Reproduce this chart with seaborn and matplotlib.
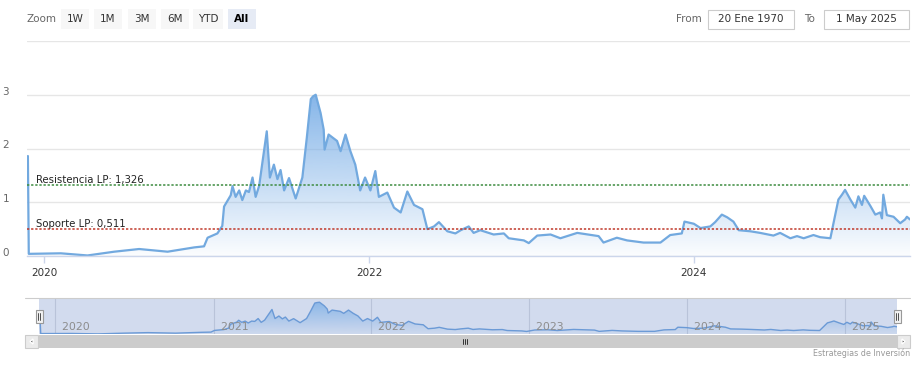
import numpy as np
import pandas as pd
import matplotlib
matplotlib.use("Agg")
import matplotlib.pyplot as plt
import matplotlib.dates as mdates
from matplotlib.patches import Rectangle, Polygon
from matplotlib.colors import LinearSegmentedColormap
from matplotlib.transforms import ScaledTranslation
import seaborn as sns

# ---------------- data ----------------
dates = [
    "2019-11-26", "2019-11-28", "2020-02-08", "2020-04-08", "2020-06-07", "2020-08-02",
    "2020-10-05", "2020-12-04", "2020-12-26", "2021-01-03", "2021-01-25", "2021-02-05",
    "2021-02-09", "2021-02-24", "2021-02-28", "2021-03-07", "2021-03-15", "2021-03-22",
    "2021-03-30", "2021-04-06", "2021-04-14", "2021-04-21", "2021-04-29", "2021-05-06",
    "2021-05-16", "2021-05-23", "2021-06-01", "2021-06-09", "2021-06-16", "2021-06-24",
    "2021-07-05", "2021-07-20", "2021-08-04", "2021-08-14", "2021-08-23", "2021-08-28",
    "2021-09-03", "2021-09-14", "2021-09-21", "2021-09-23", "2021-10-02", "2021-10-21",
    "2021-10-29", "2021-11-09", "2021-11-20", "2021-12-01", "2021-12-12", "2021-12-23",
    "2022-01-04", "2022-01-15", "2022-01-23", "2022-02-11", "2022-02-26",
    "2022-03-13", "2022-03-28", "2022-04-12", "2022-05-01", "2022-05-12", "2022-05-27",
    "2022-06-07", "2022-06-26", "2022-07-14", "2022-07-26", "2022-08-13", "2022-08-24",
    "2022-09-08", "2022-10-08", "2022-10-31", "2022-11-11", "2022-12-15", "2022-12-26",
    "2023-01-14", "2023-02-13", "2023-03-07", "2023-04-14", "2023-06-01", "2023-06-12",
    "2023-07-12", "2023-08-04", "2023-09-10", "2023-10-18", "2023-11-09", "2023-12-05",
    "2023-12-11", "2024-01-01", "2024-01-16", "2024-02-07", "2024-02-18", "2024-03-04",
    "2024-03-16", "2024-03-30", "2024-04-11", "2024-05-07", "2024-05-29", "2024-06-28",
    "2024-07-13", "2024-08-05", "2024-08-20", "2024-09-04", "2024-09-26", "2024-10-11",
    "2024-11-03", "2024-11-10", "2024-11-21", "2024-11-29", "2024-12-06", "2024-12-18",
    "2024-12-29", "2025-01-05", "2025-01-13", "2025-01-18", "2025-02-01", "2025-02-12",
    "2025-02-23", "2025-02-27", "2025-03-02", "2025-03-10", "2025-03-25", "2025-04-09",
    "2025-04-20", "2025-04-24", "2025-05-01",
]
values = [
    1.86, 0.04, 0.05, 0.01, 0.08, 0.13,
    0.08, 0.16, 0.18, 0.34, 0.42, 0.56,
    0.92, 1.13, 1.30, 1.10, 1.22, 1.04,
    1.22, 1.19, 1.46, 1.10, 1.31, 1.73,
    2.32, 1.46, 1.70, 1.43, 1.60, 1.22,
    1.45, 1.07, 1.46, 2.20, 2.92, 2.97,
    3.00, 2.66, 2.35, 1.98, 2.26, 2.14,
    1.95, 2.26, 1.95, 1.70, 1.22, 1.46,
    1.22, 1.58, 1.10, 1.18, 0.90,
    0.81, 1.20, 0.95, 0.87, 0.50, 0.55,
    0.63, 0.46, 0.42, 0.48, 0.55, 0.43,
    0.48, 0.40, 0.42, 0.33, 0.29, 0.24,
    0.38, 0.40, 0.33, 0.43, 0.37, 0.25,
    0.34, 0.29, 0.25, 0.25, 0.39, 0.42,
    0.64, 0.60, 0.52, 0.55, 0.63, 0.77,
    0.72, 0.64, 0.48, 0.46, 0.43, 0.38,
    0.43, 0.33, 0.37, 0.33, 0.39, 0.35,
    0.33, 0.61, 1.05, 1.14, 1.23, 1.05,
    0.90, 1.11, 0.95, 1.12, 0.93, 0.77,
    0.81, 0.70, 1.14, 0.76, 0.73, 0.61,
    0.68, 0.73, 0.68,
]
resistance = 1.326
support = 0.511
resistance_label = "Resistencia LP: 1,326"
support_label = "Soporte LP: 0,511"
main_year_ticks = ["2020-01-01", "2022-01-01", "2024-01-01"]
main_year_labels = ["2020", "2022", "2024"]
nav_year_ticks = ["2020-01-01", "2021-01-01", "2022-01-01", "2023-01-01", "2024-01-01", "2025-01-01"]
nav_year_labels = ["2020", "2021", "2022", "2023", "2024", "2025"]
y_ticks = [0, 1, 2, 3, 4]
y_labels = ["0", "1", "2", "3", ""]
zoom_buttons = ["1W", "1M", "3M", "6M", "YTD", "All"]
from_date = "20 Ene 1970"
to_date = "1 May 2025"
x_start, x_end = "2019-11-24", "2025-05-01"

df = pd.DataFrame({"date": pd.to_datetime(dates), "value": values})

# ---------------- style ----------------
sns.set_theme(style="white")
plt.rcParams["font.family"] = ["DejaVu Sans"]

W, H = 920, 367
fig = plt.figure(figsize=(W / 100, H / 100), dpi=100)
fig.patch.set_facecolor("white")

LINE = "#72a9df"
FILL = (118 / 255, 172 / 255, 230 / 255)

x0, x1 = mdates.date2num(pd.Timestamp(x_start)), mdates.date2num(pd.Timestamp(x_end))


def gradient_fill(ax, ytop, amax, amin):
    poly = ax.fill_between(df["date"], df["value"], 0, color="none", lw=0)
    path = poly.get_paths()[0]
    cmap = LinearSegmentedColormap.from_list(
        "g", [(FILL[0], FILL[1], FILL[2], amin), (FILL[0], FILL[1], FILL[2], amax)])
    grad = np.linspace(0, 1, 256)[:, None]
    im = ax.imshow(grad, extent=[x0, x1, 0, ytop], aspect="auto", cmap=cmap,
                   origin="lower", zorder=1, interpolation="bilinear")
    im.set_clip_path(path, transform=ax.transData)


# ---------------- main axes ----------------
ax = fig.add_axes([27 / W, 1 - 256 / H, (910 - 27) / W, (256 - 41) / H])
ax.set_facecolor("white")
gradient_fill(ax, 3.4, 1.0, 0.03)
sns.lineplot(data=df, x="date", y="value", ax=ax, color=LINE, lw=1.6, zorder=3)
ax.set_xlim(x0, x1)
ax.set_ylim(0, 4)
ax.set_yticks(y_ticks)
ax.set_yticklabels(y_labels)
ax.yaxis.grid(True, color="#e6e6e6", lw=1)
ax.xaxis.grid(False)
ax.set_axisbelow(True)
ax.set_xlabel("")
ax.set_ylabel("")
for s in ["top", "right", "left"]:
    ax.spines[s].set_visible(False)
ax.spines["bottom"].set_color("#ccd6eb")
ax.spines["bottom"].set_linewidth(1)
ax.spines["bottom"].set_zorder(5)
ax.set_xticks(mdates.date2num(pd.to_datetime(main_year_ticks)))
ax.set_xticklabels(main_year_labels)
ax.tick_params(axis="x", length=5, width=1, color="#ccd6eb", labelsize=7.5,
               labelcolor="#333333", pad=4, bottom=True)
ax.tick_params(axis="y", length=0, labelsize=7.5, labelcolor="#666666", pad=13)
for lab in ax.get_yticklabels():
    lab.set_transform(lab.get_transform() + ScaledTranslation(0, 3 / 72, fig.dpi_scale_trans))

ax.axhline(resistance, color="#3d8c40", ls=(0, (1.5, 1.2)), lw=1.1, zorder=4)
ax.axhline(support, color="#c0392b", ls=(0, (1.5, 1.2)), lw=1.1, zorder=4)
tx = (36 - 27) / (910 - 27)
ax.text(tx, resistance + 0.03, resistance_label, transform=ax.get_yaxis_transform(),
        fontsize=7.3, color="#222222", va="baseline", ha="left", zorder=6)
ax.text(tx, support + 0.03, support_label, transform=ax.get_yaxis_transform(),
        fontsize=7.3, color="#222222", va="baseline", ha="left", zorder=6)

# ---------------- navigator ----------------
nav = fig.add_axes([39 / W, 1 - 334 / H, (897 - 39) / W, (334 - 298) / H])
nav.set_facecolor("#d2dbee")
gradient_fill(nav, 3.4, 0.85, 0.05)
sns.lineplot(data=df, x="date", y="value", ax=nav, color="#6b9ad6", lw=1, zorder=3)
nav.set_xlim(x0, x1)
nav.set_ylim(0, 3.4)
nav.set_xticks(mdates.date2num(pd.to_datetime(nav_year_ticks)))
nav.set_xticklabels([])
nav.set_yticks([])
nav.xaxis.grid(True, color="#b9c3d9", lw=0.8)
nav.set_axisbelow(True)
nav.tick_params(axis="x", length=0)
nav.set_xlabel("")
nav.set_ylabel("")
for s in nav.spines.values():
    s.set_visible(False)
for d, lab in zip(nav_year_ticks, nav_year_labels):
    nav.text(mdates.date2num(pd.Timestamp(d)), 0.2, "  " + lab, transform=nav.get_xaxis_transform(),
             fontsize=7.8, color="#8c8c8c", ha="left", va="center", zorder=6)

# ---------------- overlay (pixel coords) ----------------
ov = fig.add_axes([0, 0, 1, 1])
ov.set_xlim(0, W)
ov.set_ylim(H, 0)
ov.axis("off")
ov.patch.set_alpha(0)

# zoom buttons
ov.text(27, 19, "Zoom", fontsize=7.5, color="#666666", va="center", ha="left")
btn_x = [(61, 89), (94, 122), (128, 156), (161, 189), (193, 223), (228, 256)]
for (a, b), lab in zip(btn_x, zoom_buttons):
    sel = lab == "All"
    ov.add_patch(Rectangle((a, 9), b - a, 20, facecolor="#e6ebf5" if sel else "#f7f7f7",
                           edgecolor="none"))
    ov.text((a + b) / 2, 19.5, lab, fontsize=7.5, color="#000000" if sel else "#333333",
            fontweight="bold" if sel else "normal", ha="center", va="center")

# from / to
ov.text(676, 19.5, "From", fontsize=7.5, color="#666666", ha="left", va="center")
ov.add_patch(Rectangle((708, 10), 86, 19, facecolor="white", edgecolor="#cccccc", lw=0.8))
ov.text(751, 19.5, from_date, fontsize=7.5, color="#333333", ha="center", va="center")
ov.text(804, 19.5, "To", fontsize=7.5, color="#666666", ha="left", va="center")
ov.add_patch(Rectangle((824, 10), 85, 19, facecolor="white", edgecolor="#cccccc", lw=0.8))
ov.text(866.5, 19.5, to_date, fontsize=7.5, color="#333333", ha="center", va="center")

# navigator outline + handles
ov.plot([25, 910], [298, 298], color="#cccccc", lw=0.8)
for hx in (36, 894):
    ov.add_patch(Rectangle((hx, 310), 7, 13, facecolor="#f2f2f2", edgecolor="#999999", lw=0.8))
    ov.plot([hx + 2.5, hx + 2.5], [313, 320], color="#333333", lw=0.6)
    ov.plot([hx + 4.5, hx + 4.5], [313, 320], color="#333333", lw=0.6)

# scrollbar
ov.add_patch(Rectangle((25, 335), 885, 13, facecolor="#f2f2f2", edgecolor="none"))
ov.add_patch(Rectangle((39, 335), 858, 13, facecolor="#cccccc", edgecolor="none"))
for bx in (25, 897):
    ov.add_patch(Rectangle((bx, 335), 13.5, 13, facecolor="#ebebeb", edgecolor="#cccccc", lw=0.8))
ov.add_patch(Polygon([[30, 341.5], [33, 339], [33, 344]], closed=True, facecolor="#333333"))
ov.add_patch(Polygon([[905, 341.5], [902, 339], [902, 344]], closed=True, facecolor="#333333"))
for gx in (463.5, 465.5, 467.5):
    ov.plot([gx, gx], [339, 344], color="#333333", lw=0.7)

# credits
ov.text(910, 353, "Estrategias de Inversión", fontsize=5.8, color="#999999", ha="right", va="center")

fig.savefig("out.png", dpi=100, facecolor="white")
